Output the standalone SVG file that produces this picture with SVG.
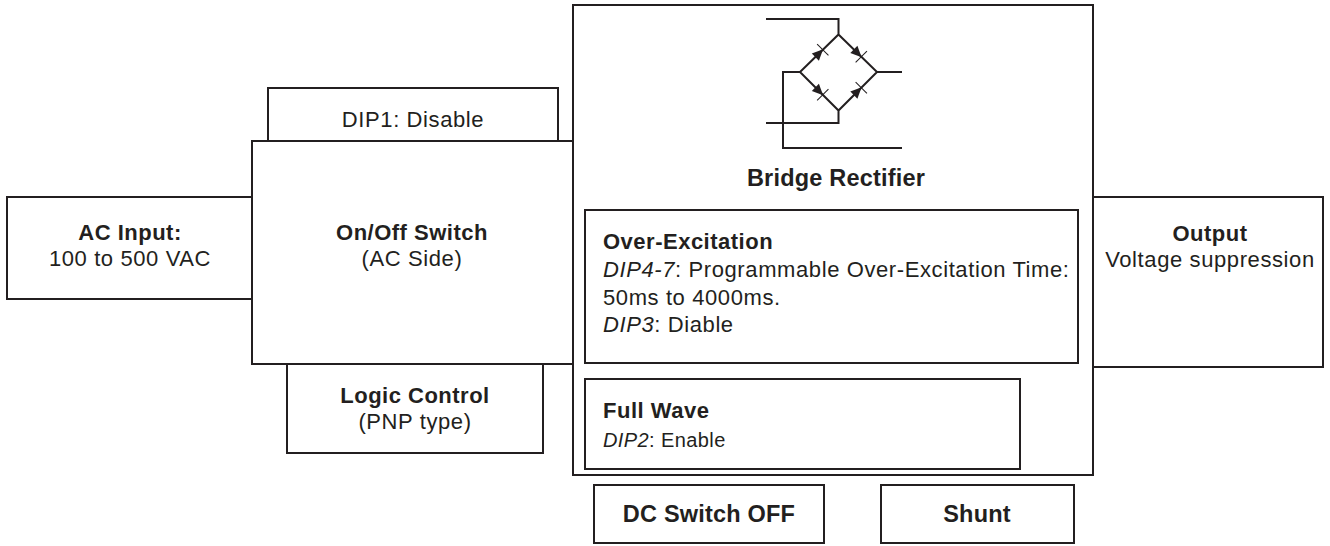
<svg xmlns="http://www.w3.org/2000/svg" width="1330" height="546" viewBox="0 0 1330 546">
<defs>
<style>
rect.box{fill:#fff;stroke:#231f20;stroke-width:2}
text{font-family:"Liberation Sans",Arial,sans-serif;fill:#231f20;font-size:22px;letter-spacing:0.6px}
.b{font-weight:bold;letter-spacing:0.5px}
.big{font-size:23.5px;letter-spacing:0.2px}
.c{text-anchor:middle}
.i{font-style:italic}
.wire{fill:none;stroke:#231f20;stroke-width:2}
</style>
<g id="diode">
<polygon points="-5.5,-5 5.5,0 -5.5,5" fill="#231f20"/>
<line x1="5" y1="-8" x2="5" y2="8" stroke="#231f20" stroke-width="1"/>
</g>
</defs>
<rect width="1330" height="546" fill="#fff"/>

<g id="bridge">
<rect class="box" x="573" y="5" width="520" height="470"/>
<path class="wire" d="M766,19 H838.5 V34.5 M838.5,34.5 L877,72 L838.5,110.5 L800,72 Z M877,72 H902 M800,72 H783 V148 H902 M838.5,110.5 V123 H766"/>
<use href="#diode" transform="translate(819.25,53.25) rotate(-45)"/>
<use href="#diode" transform="translate(857.75,53.25) rotate(45)"/>
<use href="#diode" transform="translate(819.25,91.25) rotate(45)"/>
<use href="#diode" transform="translate(857.75,91.25) rotate(-45)"/>
<text class="b c big" x="836" y="186">Bridge Rectifier</text>
</g>

<g id="dip1">
<rect class="box" x="268" y="88" width="290" height="53"/>
<text class="c" x="413" y="127">DIP1: Disable</text>
</g>

<g id="onoff">
<rect class="box" x="252" y="141" width="321" height="223"/>
<text class="b c" x="412" y="240">On/Off Switch</text>
<text class="c" x="412" y="266">(AC Side)</text>
</g>

<g id="acinput">
<rect class="box" x="7" y="197" width="245" height="102"/>
<text class="b c" x="130" y="240">AC Input:</text>
<text class="c" x="130" y="266">100 to 500 VAC</text>
</g>

<g id="logic">
<rect class="box" x="287" y="364" width="256" height="89"/>
<text class="b c" x="415" y="403">Logic Control</text>
<text class="c" x="415" y="429">(PNP type)</text>
</g>

<g id="output">
<rect class="box" x="1093" y="197" width="230" height="170"/>
<text class="b c" x="1210" y="241">Output</text>
<text class="c" x="1210" y="267">Voltage suppression</text>
</g>

<g id="overexcitation">
<rect class="box" x="585" y="210" width="493" height="153"/>
<text class="b" x="603" y="249">Over-Excitation</text>
<text x="603" y="277"><tspan class="i">DIP4-7</tspan>: Programmable Over-Excitation Time:</text>
<text x="603" y="305">50ms to 4000ms.</text>
<text x="603" y="332"><tspan class="i">DIP3</tspan>: Diable</text>
</g>

<g id="fullwave">
<rect class="box" x="585" y="379" width="435" height="90"/>
<text class="b" x="603" y="418">Full Wave</text>
<text x="603" y="447" style="font-size:20px;letter-spacing:0.4px"><tspan class="i">DIP2</tspan>: Enable</text>
</g>

<g id="dcswitch">
<rect class="box" x="594" y="485" width="230" height="58"/>
<text class="b c big" x="709" y="522">DC Switch OFF</text>
</g>

<g id="shunt">
<rect class="box" x="881" y="485" width="193" height="58"/>
<text class="b c big" x="977" y="522">Shunt</text>
</g>

<g id="connectors"></g>
</svg>
